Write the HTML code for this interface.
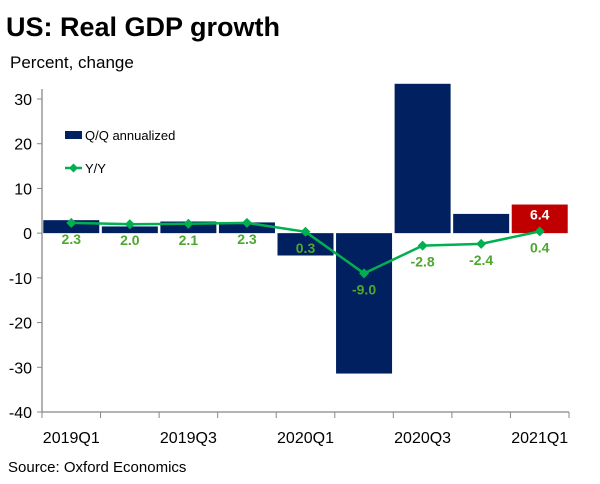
<!DOCTYPE html>
<html><head><meta charset="utf-8"><style>
body{margin:0;background:#fff;width:600px;height:479px;overflow:hidden;font-family:"Liberation Sans",sans-serif}
</style></head><body>
<svg id="chart" width="600" height="479" font-family="Liberation Sans, sans-serif">
<text x="6" y="36" font-size="27" font-weight="bold" fill="#000">US: Real GDP growth</text>
<text x="10" y="68" font-size="17" fill="#000">Percent, change</text>
<text x="8" y="472" font-size="15" fill="#000">Source: Oxford Economics</text>
<g id="plot"></g>
<rect x="65" y="131" width="17" height="8" fill="#002060"/>
<text x="85" y="140" font-size="13">Q/Q annualized</text>
<line x1="65" y1="168" x2="82" y2="168" stroke="#00b050" stroke-width="2.5"/>
<path d="M73.5 163.5 L78 168 L73.5 172.5 L69 168Z" fill="#00b050"/>
<text x="85" y="173" font-size="13">Y/Y</text>
</svg>
<script>
const categories=["2019Q1","2019Q2","2019Q3","2019Q4","2020Q1","2020Q2","2020Q3","2020Q4","2021Q1"];
const qq=[2.9,1.5,2.6,2.4,-5.0,-31.4,33.4,4.3,6.4];
const yy=[2.3,2.0,2.1,2.3,0.3,-9.0,-2.8,-2.4,0.4];
const yTicks=[30,20,10,0,-10,-20,-30,-40];
const xLabels=["2019Q1","","2019Q3","","2020Q1","","2020Q3","","2021Q1"];
const NS="http://www.w3.org/2000/svg";
const g=document.getElementById('plot');
const L=42,R=569,T=99,B=412,yMin=-40,yMax=30;
const cw=(R-L)/categories.length;
function y(v){return B-(v-yMin)/(yMax-yMin)*(B-T);}
function xc(i){return L+cw*(i+0.5);}
function mk(t,a){const e=document.createElementNS(NS,t);for(const k in a)e.setAttribute(k,a[k]);g.appendChild(e);return e;}
qq.forEach((v,i)=>{
 const r=mk('rect',{x:xc(i)-28,y:Math.min(y(v),y(0)),width:56,height:Math.abs(y(v)-y(0)),fill:i===qq.length-1?'#c00000':'#002060'});
 
 
});
const last=qq.length-1;
const lt=mk('text',{x:xc(last),y:y(qq[last])+15,'text-anchor':'middle','font-size':14,'font-weight':'bold',fill:'#fff'});
lt.textContent=qq[last].toFixed(1);


const ax=mk('path',{d:`M${L} ${T-10}V${B}H${R}`,stroke:'#888',fill:'none','stroke-width':1.3});


yTicks.forEach(v=>{
 const tk=mk('line',{x1:L-5,x2:L,y1:y(v),y2:y(v),stroke:'#888'});
 
 
 const t=mk('text',{x:L-10,y:y(v)+6,'text-anchor':'end','font-size':16});
 t.textContent=v;
 
 
});
for(let i=0;i<=categories.length;i++){
 const tk=mk('line',{x1:L+cw*i,x2:L+cw*i,y1:B,y2:B+6,stroke:'#888'});
 
 
}
xLabels.forEach((s,i)=>{if(!s)return;
 const t=mk('text',{x:xc(i),y:B+31,'text-anchor':'middle','font-size':16});
 t.textContent=s;
 
 
});
const ln=mk('polyline',{points:yy.map((v,i)=>xc(i)+','+y(v)).join(' '),fill:'none',stroke:'#00b050','stroke-width':2.5});


yy.forEach((v,i)=>{
 const cx=xc(i),cy=y(v);
 const p=mk('path',{d:`M${cx} ${cy-5}L${cx+5} ${cy}L${cx} ${cy+5}L${cx-5} ${cy}Z`,fill:'#00b050'});
 
 
 const t=mk('text',{x:cx,y:cy+21,'text-anchor':'middle','font-size':14,'font-weight':'bold',fill:'#4ea72e'});
 t.textContent=v.toFixed(1);
 
 
});
</script>
</body></html>
